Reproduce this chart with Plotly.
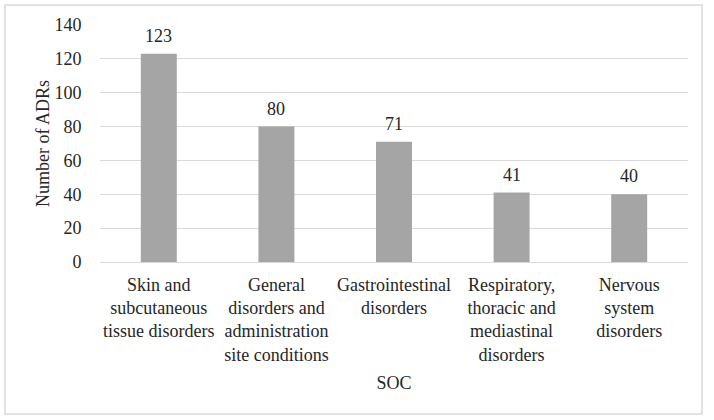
import plotly.graph_objects as go

categories = [
    "Skin and<br>subcutaneous<br>tissue disorders",
    "General<br>disorders and<br>administration<br>site conditions",
    "Gastrointestinal<br>disorders",
    "Respiratory,<br>thoracic and<br>mediastinal<br>disorders",
    "Nervous<br>system<br>disorders",
]
values = [123, 80, 71, 41, 40]
y_ticks = [0, 20, 40, 60, 80, 100, 120, 140]

FONT = "Liberation Serif"
TXT = "#262626"
F = dict(family=FONT, size=18, color=TXT)

fig = go.Figure(go.Bar(
    x=categories, y=values,
    marker=dict(color="#a5a5a5", line=dict(width=0)),
    hoverinfo="x+y",
))

for c, v in zip(categories, values):
    fig.add_annotation(x=c, y=v, text=str(v), showarrow=False,
                       yanchor="bottom", yshift=6, font=F)

L, R, T, B = 100, 26, 25, 158
W, H = 714, 420
pw, ph = W - L - R, H - T - B

fig.update_layout(
    width=W, height=H,
    margin=dict(l=L, r=R, t=T, b=B, autoexpand=False),
    paper_bgcolor="white", plot_bgcolor="white",
    font=F,
    bargap=0.694,
    showlegend=False,
    xaxis=dict(
        title=dict(text="SOC", standoff=12, font=F),
        ticks="outside", ticklen=6, tickcolor="rgba(0,0,0,0)",
        showline=True, linecolor="#d9d9d9", linewidth=1,
        tickfont=F, automargin=False,
    ),
    yaxis=dict(
        title=dict(text="Number of ADRs", standoff=0, font=F),
        range=[0, 140], tickvals=y_ticks,
        ticks="outside", ticklen=14, tickcolor="rgba(0,0,0,0)",
        showgrid=True, gridcolor="#d9d9d9", gridwidth=1,
        zeroline=True, zerolinecolor="#d9d9d9", zerolinewidth=1,
        tickfont=F, automargin=False,
    ),
    shapes=[dict(
        type="rect", xref="paper", yref="paper",
        x0=(5 - L) / pw, x1=(702 - L) / pw,
        y0=(H - B - 414) / ph, y1=(H - B - 5) / ph,
        line=dict(color="#d9d9d9", width=1.5), fillcolor="rgba(0,0,0,0)",
        layer="below",
    )],
)

fig.write_html("out.html", config={"displayModeBar": False},
               post_script="document.body.style.margin='0';")
